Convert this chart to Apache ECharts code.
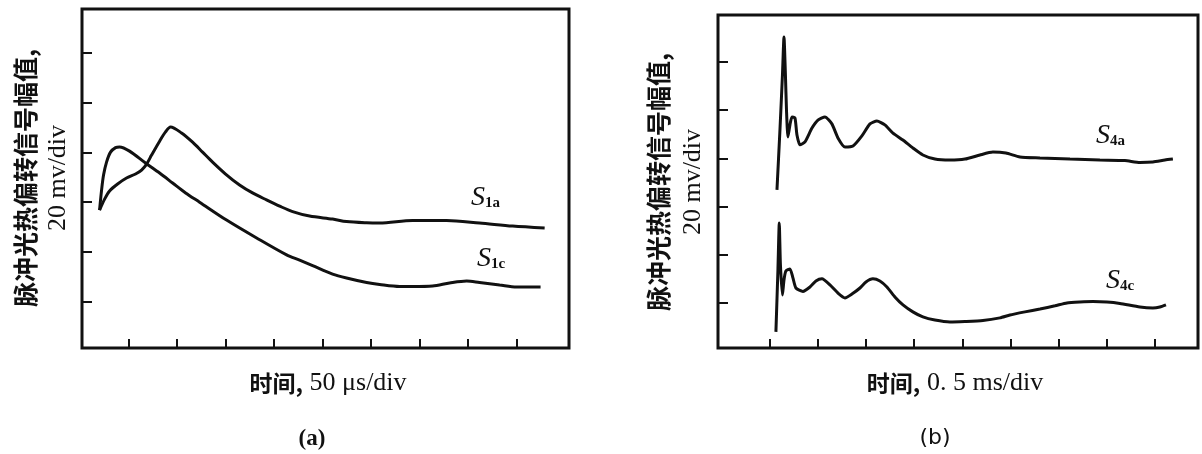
<!DOCTYPE html>
<html>
<head>
<meta charset="utf-8">
<script src="https://cdn.jsdelivr.net/npm/echarts@6/dist/echarts.min.js"></script>
<style>
  html, body { margin: 0; padding: 0; background: #fff; }
  #chart { width: 1202px; height: 454px; }
</style>
</head>
<body>
<div id="chart"></div>
<script>
// tick positions (a): 50 us/div, 20 mV/div ; (b): 0.5 ms/div, 20 mV/div
const aTicksX = [0, 50, 100, 150, 200, 250, 300, 350, 400];
const aTicksY = [20, 40, 60, 80, 100, 120];
const bTicksX = [0, 0.5, 1.0, 1.5, 2.0, 2.5, 3.0, 3.5, 4.0];
const bTicksY = [20, 40, 60, 80, 100, 120];

// (a) [time us, amplitude mV]
const s1a = [
    [-29.9, 56.8], [-24.7, 61.2], [-19.6, 64.5], [-11.3, 67.3], [-2.1, 69.7],
    [7.2, 71.3], [13.4, 72.9], [18.6, 75.3], [23.7, 78.9], [32.0, 84.5],
    [38.1, 88.2], [43.3, 90.2], [54.6, 87.8], [66.0, 84.1], [76.3, 80.1],
    [86.6, 76.1], [100.0, 71.3], [114.4, 66.9], [127.8, 63.7], [142.2, 60.9],
    [155.7, 58.4], [169.1, 56.2], [186.6, 54.4], [210.3, 53.2], [224.7, 52.2],
    [245.4, 51.7], [258.8, 51.6], [292.8, 52.6], [327.8, 52.6], [361.8, 51.6],
    [395.9, 50.4], [428.9, 49.6]
];
const s1c = [
    [-29.9, 56.8], [-27.8, 64.9], [-25.8, 70.9], [-22.7, 76.1], [-18.6, 80.1],
    [-13.4, 81.9], [-9.3, 82.2], [1.0, 80.5], [17.5, 75.7], [32.0, 71.7],
    [45.4, 67.7], [58.8, 63.7], [73.2, 60.0], [101.0, 52.8], [132.0, 45.6],
    [162.9, 38.8], [176.3, 36.7], [189.7, 34.5], [210.3, 31.1], [224.7, 29.5],
    [245.4, 27.7], [258.8, 26.9], [279.4, 26.1], [292.8, 26.1], [313.4, 26.3],
    [330.9, 27.5], [348.5, 28.3], [361.8, 27.7], [382.5, 26.7], [400.0, 25.9],
    [424.7, 25.9]
];

// (b) [time ms, amplitude mV]
const s4a = [
    [0.073, 66.9], [0.104, 91.8], [0.130, 114.6], [0.146, 130.4], [0.161, 114.6],
    [0.172, 100.1], [0.187, 88.9], [0.208, 93.9], [0.229, 97.2], [0.260, 96.8],
    [0.281, 89.7], [0.312, 85.6], [0.364, 86.8], [0.437, 92.6], [0.499, 95.9],
    [0.572, 97.2], [0.644, 94.3], [0.707, 88.5], [0.780, 84.7], [0.863, 85.1],
    [0.956, 89.3], [1.040, 94.3], [1.112, 95.5], [1.195, 93.9], [1.279, 90.5],
    [1.382, 87.6], [1.486, 84.3], [1.590, 81.4], [1.715, 79.7], [1.871, 79.3],
    [2.027, 79.7], [2.183, 81.4], [2.318, 82.6], [2.453, 82.2], [2.599, 80.6],
    [2.807, 80.2], [3.119, 79.7], [3.430, 79.3], [3.690, 79.1], [3.846, 78.3],
    [3.981, 78.5], [4.106, 79.3], [4.189, 79.7]
];
const s4c = [
    [0.062, 8.0], [0.083, 33.7], [0.097, 53.2], [0.109, 35.8], [0.130, 23.3],
    [0.146, 29.5], [0.166, 33.3], [0.208, 34.1], [0.239, 30.4], [0.270, 26.2],
    [0.343, 24.8], [0.416, 26.6], [0.478, 29.1], [0.541, 30.0], [0.624, 27.5],
    [0.707, 24.1], [0.780, 22.1], [0.852, 23.7], [0.936, 26.2], [0.998, 28.7],
    [1.071, 30.0], [1.143, 29.1], [1.216, 26.6], [1.299, 22.5], [1.383, 19.2],
    [1.486, 16.3], [1.590, 14.2], [1.715, 12.9], [1.871, 12.1], [2.027, 12.3],
    [2.214, 12.7], [2.391, 13.8], [2.495, 15.0], [2.651, 16.3], [2.807, 17.5],
    [2.963, 18.8], [3.087, 20.0], [3.222, 20.4], [3.358, 20.6], [3.503, 20.4],
    [3.638, 19.8], [3.846, 18.3], [3.981, 17.9], [4.054, 18.3], [4.117, 19.2]
];

const ink = '#111';
const cjk = '"Noto Sans CJK SC", sans-serif';
const serif = '"Liberation Serif", "DejaVu Serif", serif';

function makeX(gridIndex, min, max, ticks) {
    return {
        gridIndex: gridIndex, type: 'value', min: min, max: max,
        axisLine: {show: false, onZero: false},
        splitLine: {show: false},
        axisLabel: {show: false},
        axisTick: {show: true, inside: true, length: 9, customValues: ticks,
                   lineStyle: {color: ink, width: 2}}
    };
}
function makeY(gridIndex, min, max, ticks) {
    return {
        gridIndex: gridIndex, type: 'value', min: min, max: max,
        axisLine: {show: false, onZero: false},
        splitLine: {show: false},
        axisLabel: {show: false},
        axisTick: {show: true, inside: true, length: 10, customValues: ticks,
                   lineStyle: {color: ink, width: 2}}
    };
}
function makeLine(name, idx, data, smooth) {
    return {
        name: name, type: 'line', xAxisIndex: idx, yAxisIndex: idx,
        data: data, symbol: 'none', smooth: smooth,
        lineStyle: {color: ink, width: 3}
    };
}

// vertical axis title: two lines, rotated
function yTitle(x1, x2, y) {
    return [
        {type: 'text', x: x1, y: y, rotation: Math.PI / 2,
         style: {text: '脉冲光热偏转信号幅值,', font: 'bold 25px ' + cjk, fill: ink,
                 align: 'center', verticalAlign: 'middle'}},
        {type: 'text', x: x2, y: y, rotation: Math.PI / 2,
         style: {text: '20 mv/div', font: '26px ' + serif, fill: ink,
                 align: 'center', verticalAlign: 'middle'}}
    ];
}
function xTitle(x, y, unit) {
    return {type: 'text', x: x, y: y,
        style: {text: '{c|时间,}  {u|' + unit + '}', align: 'center', verticalAlign: 'middle',
                rich: {c: {font: 'bold 23px ' + cjk, fill: ink},
                       u: {font: '26px ' + serif, fill: ink}}}};
}
function seriesLabel(x, y, sub) {
    return {type: 'text', x: x, y: y,
        style: {text: '{s|S}{b|' + sub + '}', verticalAlign: 'middle',
                rich: {s: {font: 'italic 28px ' + serif, fill: ink},
                       b: {font: 'bold 15px ' + serif, fill: ink, padding: [10, 0, 0, 0]}}}};
}

const chart = echarts.init(document.getElementById('chart'));
const option = {
    animation: false,
    backgroundColor: '#fff',
    grid: [
        {left: 82, top: 9, width: 487, height: 339, show: true,
         borderColor: ink, borderWidth: 3},
        {left: 718, top: 15, width: 480, height: 333, show: true,
         borderColor: ink, borderWidth: 3}
    ],
    xAxis: [makeX(0, -48, 454, aTicksX), makeX(1, -0.54, 4.45, bTicksX)],
    yAxis: [makeY(0, 1.4, 137.6, aTicksY), makeY(1, 1.3, 139.5, bTicksY)],
    series: [
        makeLine('S1a', 0, s1a, 0.3),
        makeLine('S1c', 0, s1c, 0.3),
        makeLine('S4a', 1, s4a, 0.2),
        makeLine('S4c', 1, s4c, 0.2)
    ],
    graphic: [].concat(
        yTitle(25, 58, 178),
        yTitle(658, 693, 182),
        [
            xTitle(328, 383, '50 μs/div'),
            xTitle(955, 383, '0. 5 ms/div'),
            {type: 'text', x: 312, y: 439,
             style: {text: '(a)', font: 'bold 23px ' + serif, fill: ink,
                     align: 'center', verticalAlign: 'middle'}},
            {type: 'text', x: 935, y: 438,
             style: {text: '(b)', font: '22px "DejaVu Sans", sans-serif', fill: ink,
                     align: 'center', verticalAlign: 'middle'}},
            seriesLabel(471, 198, '1a'),
            seriesLabel(477, 259, '1c'),
            seriesLabel(1096, 136, '4a'),
            seriesLabel(1106, 281, '4c')
        ]
    )
};
chart.setOption(option);
</script>
</body>
</html>
